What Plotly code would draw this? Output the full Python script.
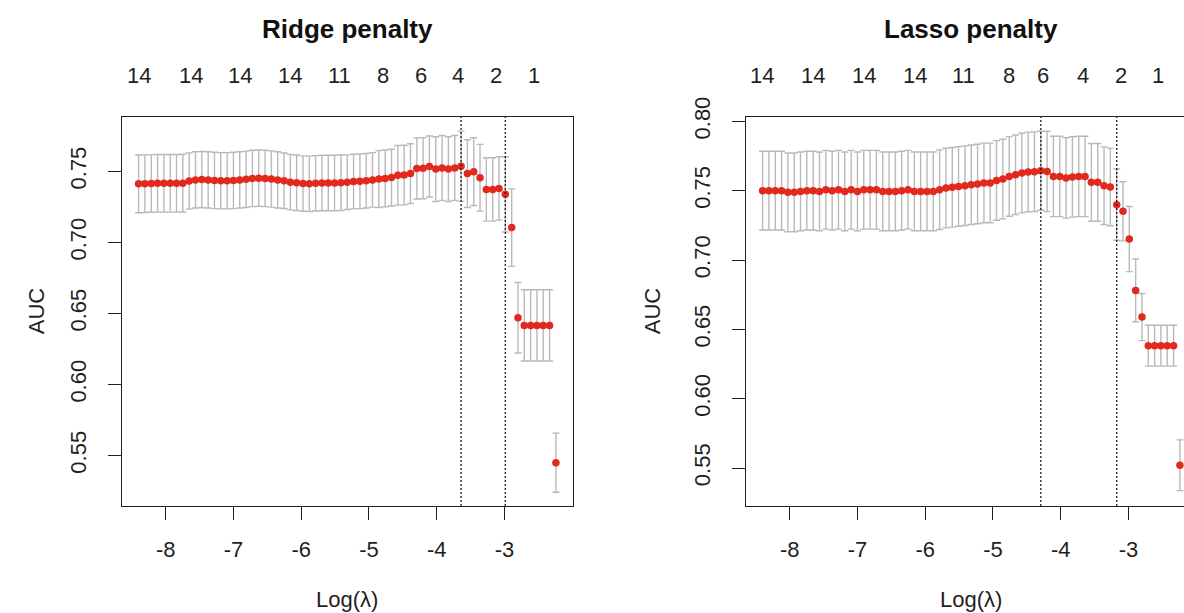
import plotly.graph_objects as go

W, H = 1184, 613

# ---------------- data ----------------
log_lambda = [
    -8.400, -8.307, -8.213, -8.120, -8.027, -7.933, -7.840, -7.747, -7.653, -7.560,
    -7.467, -7.373, -7.280, -7.187, -7.093, -7.000, -6.907, -6.813, -6.720, -6.627,
    -6.533, -6.440, -6.347, -6.253, -6.160, -6.067, -5.973, -5.880, -5.787, -5.693,
    -5.600, -5.507, -5.413, -5.320, -5.227, -5.133, -5.040, -4.947, -4.853, -4.760,
    -4.667, -4.573, -4.480, -4.387, -4.293, -4.200, -4.107, -4.013, -3.920, -3.827,
    -3.733, -3.640, -3.547, -3.453, -3.360, -3.267, -3.173, -3.080, -2.987, -2.893,
    -2.800, -2.707, -2.613, -2.520, -2.427, -2.333, -2.240]

ridge_auc = [
    0.7412, 0.7413, 0.7415, 0.7416, 0.7416, 0.7416, 0.7416, 0.7417, 0.7432, 0.7440,
    0.7442, 0.7440, 0.7436, 0.7434, 0.7434, 0.7436, 0.7440, 0.7444, 0.7450, 0.7452,
    0.7450, 0.7446, 0.7440, 0.7434, 0.7424, 0.7420, 0.7414, 0.7412, 0.7416, 0.7418,
    0.7418, 0.7418, 0.7420, 0.7424, 0.7428, 0.7430, 0.7434, 0.7440, 0.7446, 0.7450,
    0.7456, 0.7472, 0.7474, 0.7484, 0.7520, 0.7522, 0.7534, 0.7516, 0.7524, 0.7516,
    0.7524, 0.7536, 0.7484, 0.7498, 0.7455, 0.7373, 0.7373, 0.7380, 0.7338, 0.7104,
    0.6470, 0.6416, 0.6416, 0.6416, 0.6416, 0.6416, 0.5450]

ridge_se = [
    0.0203, 0.0203, 0.0203, 0.0203, 0.0203, 0.0203, 0.0203, 0.0203, 0.0198, 0.0198,
    0.0198, 0.0198, 0.0198, 0.0198, 0.0198, 0.0198, 0.0198, 0.0198, 0.0198, 0.0198,
    0.0198, 0.0198, 0.0198, 0.0195, 0.0195, 0.0195, 0.0195, 0.0195, 0.0195, 0.0195,
    0.0195, 0.0195, 0.0195, 0.0192, 0.0192, 0.0192, 0.0192, 0.0192, 0.0200, 0.0200,
    0.0200, 0.0210, 0.0210, 0.0210, 0.0215, 0.0215, 0.0215, 0.0228, 0.0228, 0.0228,
    0.0228, 0.0247, 0.0238, 0.0238, 0.0235, 0.0223, 0.0223, 0.0223, 0.0265, 0.0273,
    0.0248, 0.0251, 0.0251, 0.0251, 0.0251, 0.0251, 0.0208]

lasso_auc = [
    0.7500, 0.7500, 0.7500, 0.7500, 0.7488, 0.7488, 0.7495, 0.7500, 0.7500, 0.7495,
    0.7507, 0.7500, 0.7507, 0.7495, 0.7507, 0.7495, 0.7507, 0.7507, 0.7507, 0.7495,
    0.7495, 0.7495, 0.7500, 0.7507, 0.7495, 0.7495, 0.7495, 0.7495, 0.7507, 0.7519,
    0.7524, 0.7531, 0.7536, 0.7543, 0.7548, 0.7556, 0.7556, 0.7574, 0.7584, 0.7603,
    0.7615, 0.7627, 0.7635, 0.7637, 0.7644, 0.7639, 0.7603, 0.7603, 0.7592, 0.7599,
    0.7603, 0.7603, 0.7560, 0.7560, 0.7536, 0.7527, 0.7399, 0.7351, 0.7151, 0.6781,
    0.6589, 0.6382, 0.6382, 0.6382, 0.6382, 0.6382, 0.5520]

lasso_se = [
    0.0284, 0.0284, 0.0284, 0.0284, 0.0284, 0.0284, 0.0284, 0.0284, 0.0284, 0.0284,
    0.0284, 0.0284, 0.0284, 0.0284, 0.0284, 0.0284, 0.0284, 0.0284, 0.0284, 0.0284,
    0.0284, 0.0284, 0.0284, 0.0284, 0.0284, 0.0284, 0.0284, 0.0284, 0.0287, 0.0287,
    0.0287, 0.0287, 0.0287, 0.0287, 0.0287, 0.0287, 0.0287, 0.0287, 0.0287, 0.0287,
    0.0287, 0.0287, 0.0287, 0.0287, 0.0285, 0.0290, 0.0290, 0.0290, 0.0290, 0.0290,
    0.0290, 0.0290, 0.0280, 0.0280, 0.0280, 0.0280, 0.0257, 0.0213, 0.0235, 0.0226,
    0.0170, 0.0147, 0.0147, 0.0147, 0.0147, 0.0147, 0.0183]

ridge_min_idx, ridge_1se_idx = 51, 58
lasso_min_idx, lasso_1se_idx = 44, 56

top_labels = ["14", "14", "14", "14", "11", "8", "6", "4", "2", "1"]
ridge_top_pos = [-8.39, -7.63, -6.91, -6.17, -5.43, -4.79, -4.23, -3.68, -3.13, -2.57]
lasso_top_pos = [-8.41, -7.66, -6.90, -6.15, -5.44, -4.77, -4.26, -3.67, -3.11, -2.56]

x_ticks = [-8, -7, -6, -5, -4, -3]
ridge_y_ticks = [0.55, 0.60, 0.65, 0.70, 0.75]
lasso_y_ticks = [0.55, 0.60, 0.65, 0.70, 0.75, 0.80]

titles = ["Ridge penalty", "Lasso penalty"]
x_title = "Log(λ)"
y_title = "AUC"

# ---------------- style / layout ----------------
FONT = "Liberation Sans, Arial, Helvetica, sans-serif"
RED = "#E2291E"
GREY = "#B9B9B9"
INK = "#1F1F1F"
TICK_FS = 22
TITLE_FS = 26

X_RANGE = [-8.645, -1.995]
box_w = 450.5                      # full plot-box width in px
px_per_unit = box_w / (X_RANGE[1] - X_RANGE[0])
left_x0 = 122.0
right_x0 = 746.0
box_top, box_bot = 116.5, 506.0


def pxx(p):
    return p / W


def pxy(p):
    return 1 - p / H


fig = go.Figure()

for auc, se, xa, ya in [(ridge_auc, ridge_se, "x", "y"), (lasso_auc, lasso_se, "x2", "y2")]:
    fig.add_trace(go.Scatter(
        x=log_lambda, y=auc, mode="markers",
        marker=dict(color=RED, size=7.5, line=dict(width=0)),
        error_y=dict(type="data", array=se, visible=True, color=GREY, thickness=1.4, width=3.5),
        xaxis=xa, yaxis=ya, showlegend=False, hoverinfo="x+y"))

common_x = dict(
    tickvals=x_ticks, ticktext=[str(v) for v in x_ticks],
    ticks="outside", ticklen=13, tickwidth=1.3, tickcolor=INK,
    showline=True, linecolor=INK, linewidth=1.4,
    showgrid=False, zeroline=False, automargin=False,
    tickfont=dict(family=FONT, size=TICK_FS, color=INK),
    ticklabelstandoff=10,
)
common_y = dict(
    ticks="outside", ticklen=13, tickwidth=1.3, tickcolor=INK,
    showline=True, linecolor=INK, linewidth=1.4,
    showgrid=False, zeroline=False, tickangle=-90, automargin=False,
    tickfont=dict(family=FONT, size=TICK_FS, color=INK),
    ticklabelstandoff=13,
)

ydom = [pxy(box_bot), pxy(box_top)]
right_end = X_RANGE[0] + (W - right_x0) / px_per_unit   # right panel is cut by the page edge

fig.update_layout(
    width=W, height=H, autosize=False,
    margin=dict(l=0, r=0, t=0, b=0, pad=0, autoexpand=False),
    paper_bgcolor="white", plot_bgcolor="white",
    font=dict(family=FONT, color=INK),
    xaxis=dict(domain=[pxx(left_x0), pxx(left_x0 + box_w)], range=X_RANGE,
               anchor="y", mirror=True, **common_x),
    yaxis=dict(domain=ydom, range=[0.5145, 0.7886], anchor="x", mirror=True,
               tickvals=ridge_y_ticks, ticktext=[f"{v:.2f}" for v in ridge_y_ticks], **common_y),
    xaxis2=dict(domain=[pxx(right_x0), 1.0], range=[X_RANGE[0], right_end],
                anchor="y2", mirror=True, **common_x),
    yaxis2=dict(domain=ydom, range=[0.5226, 0.8035], anchor="x2", mirror=False,
                tickvals=lasso_y_ticks, ticktext=[f"{v:.2f}" for v in lasso_y_ticks], **common_y),
)

# dotted reference lines at lambda.min and lambda.1se
shapes = []
for xref, yref, idxs in [("x", "y domain", (ridge_min_idx, ridge_1se_idx)),
                         ("x2", "y2 domain", (lasso_min_idx, lasso_1se_idx))]:
    for i in idxs:
        shapes.append(dict(type="line", xref=xref, yref=yref,
                           x0=log_lambda[i], x1=log_lambda[i], y0=0, y1=1,
                           line=dict(color=INK, width=1.3, dash="2px,2px"), layer="above"))
fig.update_layout(shapes=shapes)

ann = []
# top axis: number of non-zero coefficients
for xref, pos in [("x", ridge_top_pos), ("x2", lasso_top_pos)]:
    for p, lab in zip(pos, top_labels):
        ann.append(dict(x=p, y=pxy(76), xref=xref, yref="paper", text=lab, showarrow=False,
                        xanchor="center", yanchor="middle",
                        font=dict(family=FONT, size=TICK_FS, color=INK)))
# panel titles and x titles
for cx, t in [(left_x0 + box_w / 2, titles[0]), (right_x0 + box_w / 2, titles[1])]:
    ann.append(dict(x=pxx(cx), y=pxy(29), xref="paper", yref="paper", text=f"<b>{t}</b>",
                    showarrow=False, xanchor="center", yanchor="middle",
                    font=dict(family=FONT, size=TITLE_FS, color="#111111")))
    ann.append(dict(x=pxx(cx), y=pxy(599), xref="paper", yref="paper", text=x_title,
                    showarrow=False, xanchor="center", yanchor="middle",
                    font=dict(family=FONT, size=TICK_FS, color=INK)))
# y titles
for cx in [36, 652]:
    ann.append(dict(x=pxx(cx), y=pxy((box_top + box_bot) / 2), xref="paper", yref="paper",
                    text=y_title, textangle=-90, showarrow=False,
                    xanchor="center", yanchor="middle",
                    font=dict(family=FONT, size=TICK_FS, color=INK)))
fig.update_layout(annotations=ann)

# remove the default page margin so the figure sits at the window's top-left corner
fig.write_html(
    "out.html",
    config={"displayModeBar": False},
    post_script="document.body.style.margin='0';document.body.style.overflow='hidden';",
)
